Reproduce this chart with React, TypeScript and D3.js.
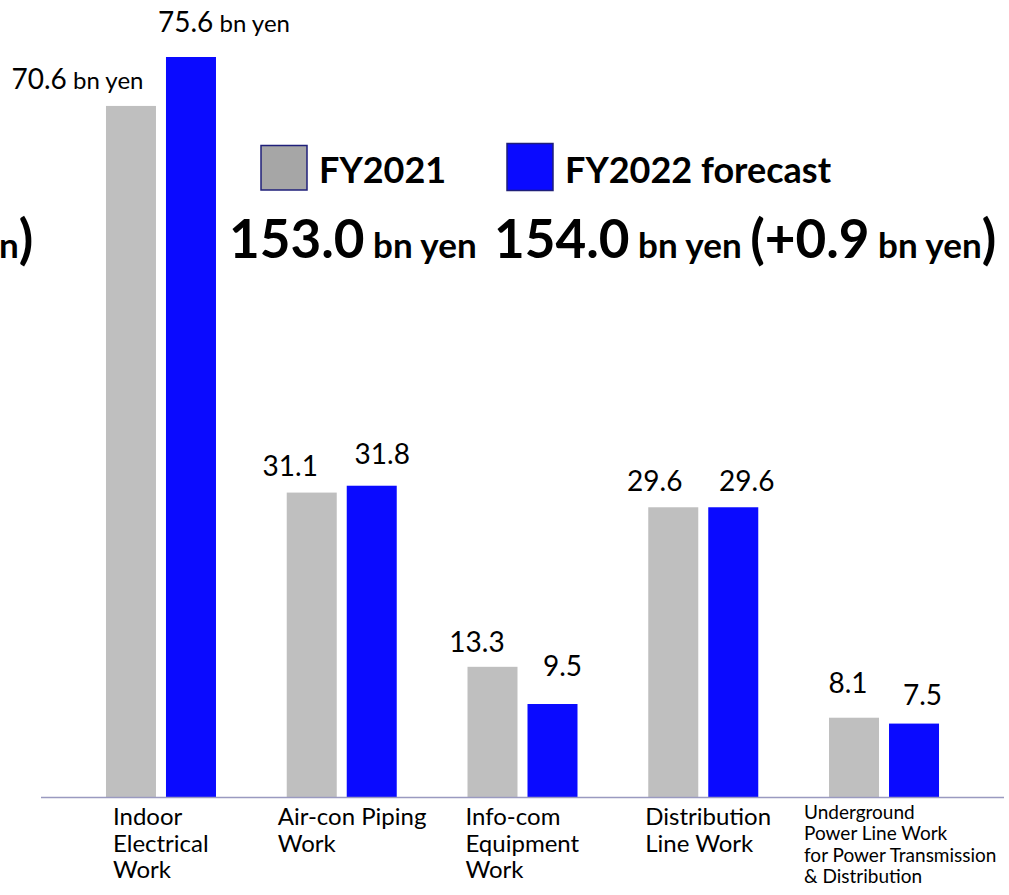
import React from "react";
import * as d3 from "d3";

const categories = ["Indoor Electrical Work", "Air-con Piping Work", "Info-com Equipment Work", "Distribution Line Work", "Underground Power Line Work for Power Transmission & Distribution"];
const categoryLines = [
  ["Indoor", "Electrical", "Work"],
  ["Air-con Piping", "Work"],
  ["Info-com", "Equipment", "Work"],
  ["Distribution", "Line Work"],
  ["Underground", "Power Line Work", "for Power Transmission", "& Distribution"],
];
const seriesNames = ["FY2021", "FY2022 forecast"];
const fy2021 = [70.6, 31.1, 13.3, 29.6, 8.1];
const fy2022 = [75.6, 31.8, 9.5, 29.6, 7.5];
const totals = ["153.0", "154.0"];
const totalDiff = "+0.9";
const unit = "bn yen";

// layout tweaks (label offsets relative to bar center / bar top)
const grayLabelDx = [-53.5, -21.5, -15.5, -18.5, -6];
const grayLabelGap = [17, 17, 15, 16, 25];
const blueLabelDx = [33, 10.5, 10, 13.5, 8.5];
const blueLabelGap = [25, 22, 28, 16, 19];
const catLabelDx = [-48, -64, -57, -58, -80];

const W = 1009, H = 895;
const FONT = "Lato, 'Open Sans', sans-serif";
const GRAY = "#bfbfbf";
const BLUE = "#0a0aff";

export default function App() {
  const x0 = d3.scaleBand<string>().domain(categories).range([70.6, 974.4]).paddingInner(0);
  const x1 = d3.scaleBand<string>().domain(seriesNames).range([0, 110]).paddingInner(1 / 6);
  const y = d3.scaleLinear().domain([0, 75.6]).range([797, 57]);
  const series = [fy2021, fy2022];
  const colors = [GRAY, BLUE];

  return (
    <div style={{ position: "absolute", left: 0, top: 0 }}>
      <svg width={W} height={H} style={{ display: "block", background: "#fff" }} fontFamily={FONT}>
        {/* bars */}
        {categories.map((c, i) => {
          const cx = x0(c)! + x0.bandwidth() / 2;
          return (
            <g key={c} transform={`translate(${cx - 55},0)`}>
              {series.map((s, k) => (
                <rect key={k} x={x1(seriesNames[k])} y={y(s[i])} width={x1.bandwidth()} height={y(0) - y(s[i])} fill={colors[k]} />
              ))}
            </g>
          );
        })}
        {/* axis line */}
        <line x1={41} x2={1004} y1={y(0) + 0.5} y2={y(0) + 0.5} stroke="#9a9ac0" strokeWidth={1.5} />
        {/* value labels */}
        {categories.map((c, i) => {
          const cx = x0(c)! + x0.bandwidth() / 2;
          const gx = cx - 55 + x1(seriesNames[0])! + x1.bandwidth() / 2;
          const bx = cx - 55 + x1(seriesNames[1])! + x1.bandwidth() / 2;
          const withUnit = i === 0;
          return (
            <g key={c}>
              <text x={gx + grayLabelDx[i]} y={y(fy2021[i]) - grayLabelGap[i]} textAnchor="middle" fontSize={28} fill="#000">
                {fy2021[i].toFixed(1)}
                {withUnit && <tspan fontSize={24}> {unit}</tspan>}
              </text>
              <text x={bx + blueLabelDx[i]} y={y(fy2022[i]) - blueLabelGap[i]} textAnchor="middle" fontSize={28} fill="#000">
                {fy2022[i].toFixed(1)}
                {withUnit && <tspan fontSize={24}> {unit}</tspan>}
              </text>
            </g>
          );
        })}
        {/* category labels */}
        {categories.map((c, i) => {
          const cx = x0(c)! + x0.bandwidth() / 2;
          const small = categoryLines[i].length > 3;
          const fs = small ? 19 : 24;
          const lh = small ? 21.3 : 26.5;
          const y0 = small ? 819 : 825;
          return (
            <text key={c} x={cx + catLabelDx[i]} y={y0} fontSize={fs} fill="#000">
              {categoryLines[i].map((l, j) => (
                <tspan key={j} x={cx + catLabelDx[i]} y={y0 + j * lh}>{l}</tspan>
              ))}
            </text>
          );
        })}
        {/* legend */}
        <rect x={261} y={145.5} width={46} height={44.5} fill="#a6a6a6" stroke="#1f1f7a" strokeWidth={1.5} />
        <text x={319} y={183} fontSize={36} fontWeight={700} fill="#000">{seriesNames[0]}</text>
        <rect x={507} y={143.5} width={46} height={47} fill={BLUE} stroke="#1f1f7a" strokeWidth={1.5} />
        <text x={565} y={183} fontSize={36} fontWeight={700} fill="#000">{seriesNames[1]}</text>
        {/* totals */}
        <text x={229} y={258} fontWeight={700} fill="#000">
          <tspan fontSize={53}>{totals[0]}</tspan>
          <tspan fontSize={35}> {unit}</tspan>
        </text>
        <text x={494} y={258} fontWeight={700} fill="#000">
          <tspan fontSize={53}>{totals[1]}</tspan>
          <tspan fontSize={35}> {unit} </tspan>
          <tspan fontSize={53}>({totalDiff}</tspan>
          <tspan fontSize={35}> {unit}</tspan>
          <tspan fontSize={53}>)</tspan>
        </text>
        <text x={-1} y={258} fontWeight={700} fill="#000">
          <tspan fontSize={35}>n</tspan>
          <tspan fontSize={53}>)</tspan>
        </text>
      </svg>
    </div>
  );
}
